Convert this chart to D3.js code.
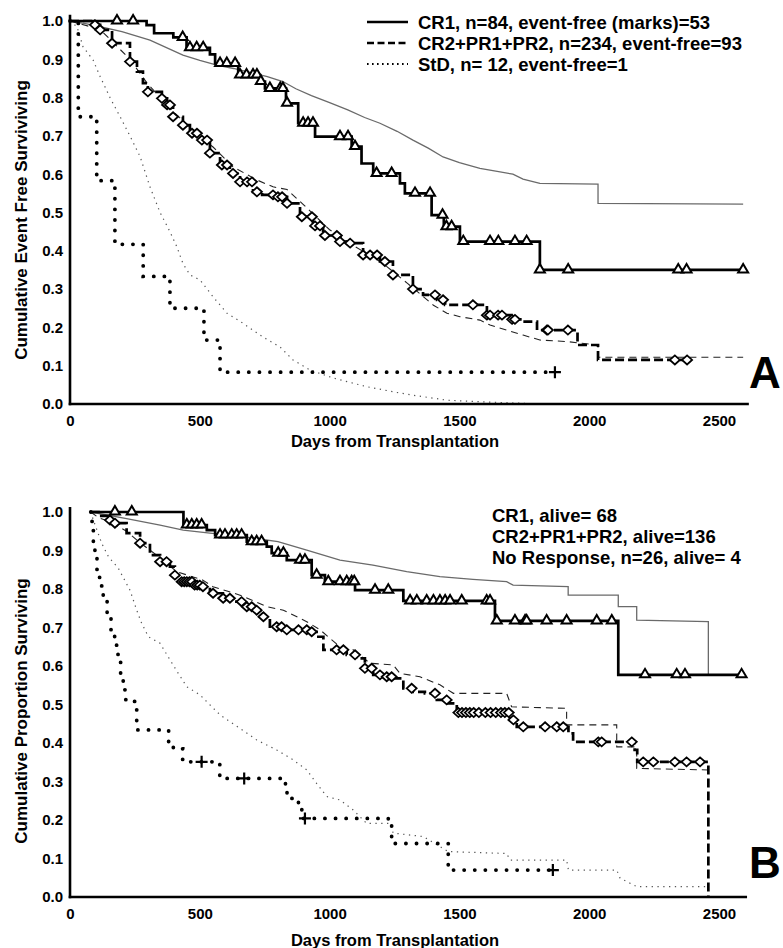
<!DOCTYPE html>
<html><head><meta charset="utf-8">
<script src="https://cdn.jsdelivr.net/npm/d3@7"></script>
<style>body{margin:0;background:#fff}svg{display:block}</style>
</head><body>
<svg id="c" width="783" height="948"></svg>
<script>
const FONT = '"Liberation Sans", Arial, Helvetica, sans-serif';
const xTicks = [0, 500, 1000, 1500, 2000, 2500];
const yTicks = [0, 0.1, 0.2, 0.3, 0.4, 0.5, 0.6, 0.7, 0.8, 0.9, 1.0];
const xTitle = "Days from Transplantation";
const yTitleA = "Cumulative Event Free Surviviving";
const yTitleB = "Cumulative Proportion Surviving";
const legendA = ["CR1, n=84, event-free (marks)=53", "CR2+PR1+PR2, n=234, event-free=93", "StD, n= 12, event-free=1"];
const legendB = ["CR1, alive= 68", "CR2+PR1+PR2, alive=136", "No Response, n=26, alive= 4"];

// ---------- Panel A ----------
const aCR1 = [[0,1.0],[295,0.989],[324,0.968],[398,0.957],[449,0.930],[539,0.913],[559,0.889],[648,0.859],[732,0.842],[751,0.824],[832,0.785],[879,0.733],[944,0.698],[1085,0.672],[1123,0.628],[1168,0.602],[1271,0.576],[1290,0.550],[1393,0.493],[1440,0.463],[1502,0.424],[1810,0.350]];
const aCR1End = 2593;
const aCR1Marks = [181,243,434,462,488,513,578,604,636,655,680,705,720,735,770,810,820,836,898,917,936,1040,1071,1098,1181,1239,1329,1387,1435,1450,1470,1515,1618,1650,1714,1759,1810,1919,2343,2375,2593];
const aCR2 = [[0,1],[96,0.99],[116,0.977],[162,0.942],[231,0.894],[258,0.868],[281,0.838],[300,0.815],[354,0.798],[374,0.781],[397,0.750],[435,0.728],[462,0.707],[501,0.689],[539,0.655],[578,0.624],[616,0.602],[655,0.580],[705,0.554],[740,0.546],[797,0.541],[836,0.524],[886,0.489],[936,0.465],[975,0.440],[1040,0.424],[1079,0.420],[1129,0.389],[1194,0.372],[1244,0.337],[1321,0.300],[1360,0.285],[1414,0.272],[1445,0.259],[1606,0.232],[1700,0.221],[1745,0.215],[1799,0.193],[1955,0.154],[2034,0.115]];
const aCR2End = 2390;
const aCR2Marks = [96,116,162,231,300,354,374,385,397,435,470,489,508,528,539,585,605,628,655,682,701,720,782,801,817,836,893,932,944,963,982,1028,1040,1079,1129,1156,1183,1213,1244,1321,1406,1437,1552,1606,1618,1649,1664,1703,1714,1837,1841,1918,2330,2377];
const aStD = [[0,1],[32,0.75],[103,0.583],[173,0.417],[282,0.333],[385,0.25],[516,0.167],[578,0.083]];
const aStDEnd = 1868;
const aStDMarks = [1868];
const aRefSolid = [[0,1],[60,0.993],[116,0.985],[200,0.972],[308,0.950],[380,0.928],[435,0.911],[500,0.897],[566,0.885],[630,0.876],[693,0.866],[760,0.855],[820,0.842],[870,0.823],[930,0.805],[1000,0.787],[1070,0.768],[1135,0.748],[1194,0.733],[1260,0.712],[1321,0.689],[1380,0.668],[1437,0.645],[1500,0.630],[1579,0.615],[1640,0.608],[1706,0.600],[1745,0.587],[1810,0.576],[2034,0.574],[2034,0.524],[2593,0.522]];
const aRefDash = [[0,1],[116,0.978],[231,0.900],[300,0.835],[400,0.762],[501,0.697],[551,0.671],[628,0.619],[720,0.585],[782,0.567],[836,0.560],[900,0.52],[1000,0.455],[1100,0.41],[1200,0.37],[1300,0.315],[1400,0.258],[1452,0.237],[1502,0.228],[1579,0.219],[1618,0.206],[1745,0.180],[1810,0.167],[1914,0.163],[1965,0.159],[2034,0.154],[2034,0.122],[2593,0.122]];
const aRefDot = [[0,1],[27,0.985],[50,0.933],[89,0.898],[116,0.855],[154,0.80],[193,0.75],[231,0.70],[270,0.646],[308,0.567],[347,0.50],[385,0.45],[412,0.41],[435,0.367],[462,0.337],[501,0.324],[551,0.28],[605,0.237],[666,0.211],[743,0.175],[809,0.149],[859,0.115],[924,0.089],[1013,0.068],[1144,0.045],[1260,0.03],[1321,0.023],[1452,0.01],[1579,0.006],[1810,0.0]];

// ---------- Panel B ----------
const bCR1 = [[80,1.0],[437,0.966],[527,0.953],[559,0.940],[681,0.923],[758,0.910],[777,0.893],[835,0.875],[931,0.836],[982,0.819],[1098,0.797],[1284,0.769],[1637,0.717],[2112,0.577]];
const bCR1End = 2590;
const bCR1Marks = [173,238,450,469,488,507,578,597,623,642,661,700,719,738,802,822,886,905,950,995,1040,1066,1085,1095,1175,1226,1310,1336,1374,1400,1425,1445,1464,1509,1605,1618,1644,1714,1753,1759,1836,1913,2029,2087,2215,2337,2369,2587];
const bCR2 = [[80,1.0],[110,0.99],[154,0.979],[173,0.971],[218,0.945],[270,0.919],[308,0.888],[347,0.871],[385,0.858],[404,0.836],[424,0.819],[474,0.810],[512,0.806],[539,0.789],[589,0.776],[628,0.767],[681,0.754],[705,0.745],[732,0.728],[770,0.702],[835,0.694],[924,0.689],[950,0.676],[976,0.642],[1066,0.629],[1104,0.620],[1136,0.594],[1168,0.577],[1207,0.572],[1245,0.568],[1284,0.542],[1322,0.533],[1367,0.529],[1413,0.512],[1457,0.503],[1490,0.479],[1695,0.460],[1721,0.442],[1920,0.425],[1938,0.403],[2175,0.382],[2185,0.351],[2459,0.0]];
const bCR2End = 2459;
const bCR2Marks = [154,173,270,347,372,404,430,440,450,460,470,480,490,500,512,551,590,616,661,681,700,719,745,796,815,835,880,912,931,1027,1053,1098,1136,1162,1194,1220,1239,1316,1406,1451,1496,1510,1525,1540,1555,1575,1600,1620,1640,1660,1675,1690,1708,1746,1830,1875,1900,2035,2048,2164,2208,2247,2330,2375,2427];
const bNR = [[80,1.0],[85,0.962],[90,0.923],[96,0.885],[104,0.846],[114,0.808],[128,0.769],[143,0.731],[158,0.692],[172,0.654],[185,0.615],[195,0.577],[205,0.538],[215,0.508],[257,0.434],[380,0.403],[398,0.385],[434,0.351],[577,0.308],[830,0.287],[836,0.256],[880,0.239],[893,0.204],[1226,0.187],[1239,0.139],[1457,0.070]];
const bNREnd = 1860;
const bNRMarks = [507,671,905,1860];
const bRefSolid = [[80,1],[218,0.983],[347,0.966],[436,0.953],[539,0.945],[666,0.936],[801,0.923],[912,0.901],[1040,0.875],[1167,0.862],[1297,0.845],[1425,0.832],[1552,0.825],[1682,0.819],[1707,0.810],[1919,0.806],[1919,0.784],[2112,0.784],[2112,0.754],[2183,0.754],[2183,0.719],[2459,0.715],[2459,0.577]];
const bRefDash = [[80,1],[110,0.985],[154,0.975],[218,0.95],[270,0.92],[330,0.89],[411,0.845],[512,0.823],[551,0.806],[655,0.784],[758,0.754],[822,0.745],[912,0.715],[963,0.694],[1040,0.650],[1091,0.642],[1156,0.607],[1245,0.603],[1271,0.581],[1348,0.572],[1425,0.551],[1477,0.529],[1682,0.529],[1701,0.494],[1913,0.490],[1913,0.447],[2106,0.447],[2106,0.390],[2183,0.390],[2183,0.334],[2459,0.330]];
const bRefDot = [[80,1],[90,0.979],[122,0.919],[148,0.884],[186,0.854],[231,0.797],[257,0.745],[276,0.711],[302,0.676],[347,0.659],[385,0.616],[417,0.581],[450,0.546],[501,0.525],[527,0.507],[578,0.473],[655,0.438],[719,0.408],[796,0.382],[860,0.356],[912,0.330],[950,0.295],[989,0.261],[1040,0.252],[1091,0.226],[1143,0.191],[1233,0.191],[1245,0.166],[1361,0.157],[1457,0.118],[1682,0.113],[1695,0.096],[1913,0.096],[1920,0.070],[2106,0.070],[2119,0.049],[2183,0.027],[2453,0.027]];

const svg = d3.select("#c");

function valAt(data, day){ let v = data[0][1]; for (const p of data) if (p[0] <= day) v = p[1]; return v; }

function panel(cfg){
  const x = d3.scaleLinear().domain([0, 2500]).range([70, 719]);
  const y = d3.scaleLinear().domain([0, 1]).range([cfg.yBottom, cfg.yTop]);
  const g = svg.append("g");

  // reference (thin) curves
  const lin = d3.line().x(d => x(d[0])).y(d => y(d[1]));
  g.append("path").attr("d", lin(cfg.refSolid)).attr("fill","none").attr("stroke","#6a6a6a").attr("stroke-width",1.3);
  g.append("path").attr("d", lin(cfg.refDash)).attr("fill","none").attr("stroke","#222").attr("stroke-width",1.1).attr("stroke-dasharray","7,5");
  g.append("path").attr("d", lin(cfg.refDot)).attr("fill","none").attr("stroke","#555").attr("stroke-width",1.2).attr("stroke-dasharray","1.3,4.5");

  // main KM curves
  const step = d3.line().x(d => x(d[0])).y(d => y(d[1])).curve(d3.curveStepAfter);
  const full = (d, end) => d.concat([[end, d[d.length-1][1]]]);
  g.append("path").attr("d", step(full(cfg.s3, cfg.s3End))).attr("fill","none").attr("stroke","#000").attr("stroke-width",3.8).attr("stroke-dasharray","0.1,10.5").attr("stroke-linecap","round");
  g.append("path").attr("d", step(full(cfg.s2, cfg.s2End))).attr("fill","none").attr("stroke","#000").attr("stroke-width",2.7).attr("stroke-dasharray","9,4");
  g.append("path").attr("d", step(full(cfg.s1, cfg.s1End))).attr("fill","none").attr("stroke","#000").attr("stroke-width",2.7);

  // censor marks
  g.selectAll(null).data(cfg.s2Marks).join("path")
    .attr("d", d => { const cx = x(d), cy = y(valAt(cfg.s2, d)); return `M${cx-5},${cy}L${cx},${cy-4.5}L${cx+5},${cy}L${cx},${cy+4.5}Z`; })
    .attr("fill","#fff").attr("stroke","#000").attr("stroke-width",1.8);
  g.selectAll(null).data(cfg.s1Marks).join("path")
    .attr("d", d => { const cx = x(d), cy = y(valAt(cfg.s1, d)); return `M${cx-5},${cy+2.5}L${cx+5},${cy+2.5}L${cx},${cy-6}Z`; })
    .attr("fill","#fff").attr("stroke","#000").attr("stroke-width",2);
  g.selectAll(null).data(cfg.s3Marks).join("path")
    .attr("d", d => { const cx = x(d), cy = y(valAt(cfg.s3, d)); return `M${cx-6},${cy}L${cx+6},${cy}M${cx},${cy-6}L${cx},${cy+6}`; })
    .attr("fill","none").attr("stroke","#000").attr("stroke-width",2.2);

  // axes
  const ya = g.append("g").attr("transform","translate(70,0)")
    .call(d3.axisLeft(y).tickValues(yTicks).tickSize(0).tickPadding(7).tickFormat(d3.format(".1f")));
  ya.select(".domain").remove();
  ya.selectAll("text").attr("font-size",15).attr("font-weight","bold").attr("font-family",FONT).attr("fill","#000");
  const xa = g.append("g").attr("transform",`translate(0,${cfg.yBottom})`)
    .call(d3.axisBottom(x).tickValues(xTicks).tickSize(0).tickPadding(11).tickFormat(d3.format("d")));
  xa.select(".domain").remove();
  xa.selectAll("text").attr("font-size",15).attr("font-weight","bold").attr("font-family",FONT).attr("fill","#000");
  g.append("line").attr("x1",70).attr("x2",70).attr("y1",y(cfg.axisTopVal)).attr("y2",y(0)+1.2).attr("stroke","#000").attr("stroke-width",2.6);
  g.append("line").attr("x1",68.7).attr("x2",x(cfg.axisEndDay)).attr("y1",y(0)).attr("y2",y(0)).attr("stroke","#000").attr("stroke-width",2.6);

  // titles
  g.append("text").attr("transform",`translate(27,${cfg.yTitleY}) rotate(-90)`).attr("text-anchor","middle")
    .attr("font-family",FONT).attr("font-weight","bold").attr("font-size",17).text(cfg.yTitle);
  g.append("text").attr("x",395).attr("y",cfg.xTitleY).attr("text-anchor","middle")
    .attr("font-family",FONT).attr("font-weight","bold").attr("font-size",16.5).text(xTitle);
  g.append("text").attr("x",749).attr("y",cfg.letterY).attr("font-family",FONT).attr("font-weight","bold").attr("font-size",44).text(cfg.letter);
  return g;
}

const gA = panel({yBottom:404, yTop:21, axisTopVal:1.016, axisEndDay:2615, yTitle:yTitleA, yTitleY:220, xTitleY:447, letter:"A", letterY:388,
  s1:aCR1, s1End:aCR1End, s1Marks:aCR1Marks, s2:aCR2, s2End:aCR2End, s2Marks:aCR2Marks, s3:aStD, s3End:aStDEnd, s3Marks:aStDMarks,
  refSolid:aRefSolid, refDash:aRefDash, refDot:aRefDot});
const gB = panel({yBottom:897, yTop:512, axisTopVal:1.013, axisEndDay:2608, yTitle:yTitleB, yTitleY:711, xTitleY:946, letter:"B", letterY:878,
  s1:bCR1, s1End:bCR1End, s1Marks:bCR1Marks, s2:bCR2, s2End:bCR2End, s2Marks:bCR2Marks, s3:bNR, s3End:bNREnd, s3Marks:bNRMarks,
  refSolid:bRefSolid, refDash:bRefDash, refDot:bRefDot});

// legends
const legStyles = [{w:2.6, dash:null}, {w:2.6, dash:"7,3.5"}, {w:2.2, dash:"1.6,3.4"}];
legendA.forEach((t, i) => {
  const by = 29 + i*21;
  gA.append("line").attr("x1",367).attr("x2",408).attr("y1",by-7).attr("y2",by-7).attr("stroke","#000")
    .attr("stroke-width",legStyles[i].w).attr("stroke-dasharray",legStyles[i].dash);
  gA.append("text").attr("x",418).attr("y",by).attr("font-family",FONT).attr("font-weight","bold").attr("font-size",18.5).text(t);
});
legendB.forEach((t, i) => {
  gB.append("text").attr("x",492).attr("y",522 + i*21).attr("font-family",FONT).attr("font-weight","bold").attr("font-size",18.5).text(t);
});
</script>
</body></html>
